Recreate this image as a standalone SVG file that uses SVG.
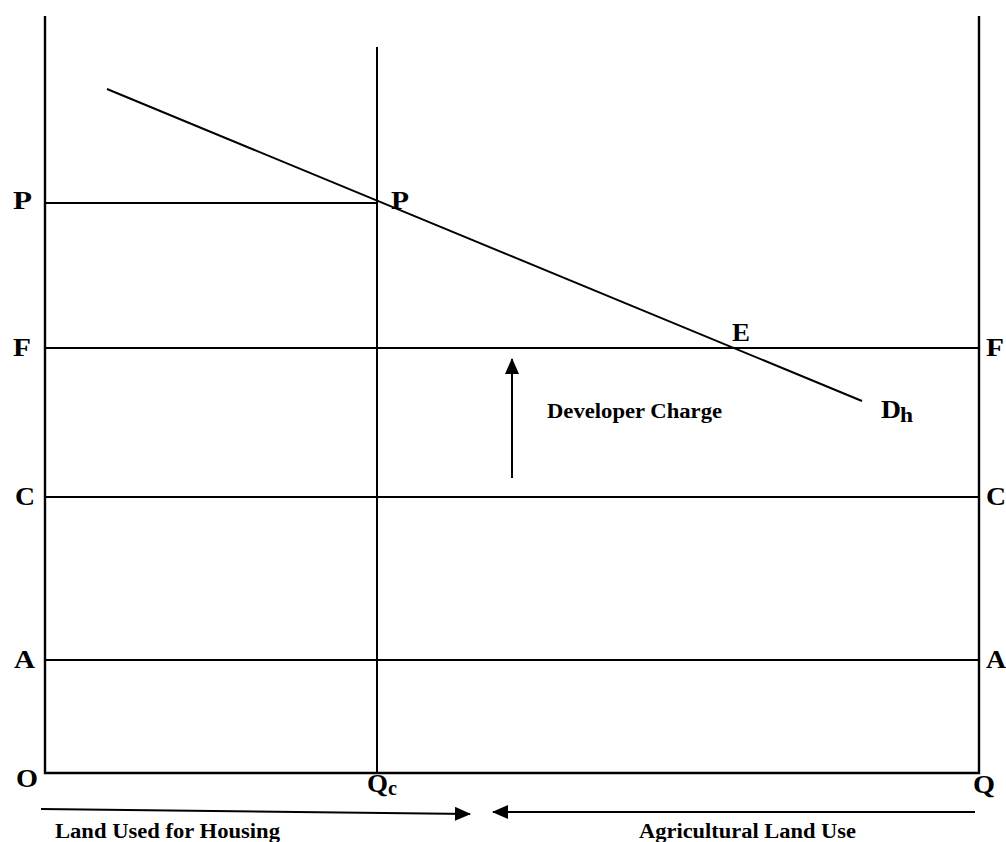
<svg xmlns="http://www.w3.org/2000/svg" width="1006" height="842" viewBox="0 0 1006 842">
<defs>
<style>
.ln{stroke:#000;stroke-width:2;fill:none}
.ax{stroke:#000;stroke-width:2.4;fill:none}
.lb{font-family:"Liberation Serif","Times New Roman",serif;font-weight:bold;font-size:25px;fill:#000}
.sm{font-family:"Liberation Serif","Times New Roman",serif;font-weight:bold;font-size:20px;fill:#000}
</style>
<marker id="ah" markerUnits="userSpaceOnUse" markerWidth="16" markerHeight="14" refX="15" refY="7" orient="auto">
<path d="M0,0 L16,7 L0,14 Z" fill="#000"/>
</marker>
</defs>
<rect width="1006" height="842" fill="#fff"/>
<g id="axes">
<path class="ax" d="M45,16 V773 H979 V16"/>
<line class="ln" x1="377" y1="47" x2="377" y2="773"/>
</g>
<g id="levels">
<line class="ln" x1="45" y1="203" x2="377" y2="203"/>
<line class="ln" x1="45" y1="348" x2="979" y2="348"/>
<line class="ln" x1="45" y1="497" x2="979" y2="497"/>
<line class="ln" x1="45" y1="660" x2="979" y2="660"/>
</g>
<g id="demand">
<line class="ln" x1="107" y1="89" x2="862" y2="401"/>
</g>
<g id="connectors">
<line class="ln" x1="512" y1="478" x2="512" y2="359" marker-end="url(#ah)"/>
<line class="ln" x1="41" y1="809" x2="470" y2="814" marker-end="url(#ah)"/>
<line class="ln" x1="975" y1="812" x2="493" y2="812" marker-end="url(#ah)"/>
</g>
<g id="labels">
<text class="lb" x="13" y="209" textLength="19" lengthAdjust="spacingAndGlyphs">P</text>
<text class="lb" x="391" y="209" textLength="18" lengthAdjust="spacingAndGlyphs">P</text>
<text class="lb" x="13" y="356" textLength="18" lengthAdjust="spacingAndGlyphs">F</text>
<text class="lb" x="732" y="341" textLength="18" lengthAdjust="spacingAndGlyphs">E</text>
<text class="lb" x="986" y="356" textLength="18" lengthAdjust="spacingAndGlyphs">F</text>
<text class="lb" x="15" y="505" textLength="20" lengthAdjust="spacingAndGlyphs">C</text>
<text class="lb" x="986" y="505" textLength="20" lengthAdjust="spacingAndGlyphs">C</text>
<text class="lb" x="14" y="668" textLength="21" lengthAdjust="spacingAndGlyphs">A</text>
<text class="lb" x="986" y="668" textLength="20" lengthAdjust="spacingAndGlyphs">A</text>
<text class="lb" x="16" y="787" textLength="22" lengthAdjust="spacingAndGlyphs">O</text>
<text class="lb" x="367" y="792" textLength="21" lengthAdjust="spacingAndGlyphs">Q</text>
<text class="sm" x="388" y="795" font-size="17" textLength="9" lengthAdjust="spacingAndGlyphs">c</text>
<text class="lb" x="973" y="793" textLength="22" lengthAdjust="spacingAndGlyphs">Q</text>
<text class="lb" x="881" y="418" font-size="28" textLength="20" lengthAdjust="spacingAndGlyphs">D</text>
<text class="sm" x="900" y="422" font-size="19" textLength="13" lengthAdjust="spacingAndGlyphs">h</text>
<text class="sm" x="547" y="418" textLength="175" lengthAdjust="spacingAndGlyphs">Developer Charge</text>
<text class="sm" x="55" y="838" textLength="225" lengthAdjust="spacingAndGlyphs">Land Used for Housing</text>
<text class="sm" x="639" y="838" textLength="217" lengthAdjust="spacingAndGlyphs">Agricultural Land Use</text>
</g>
</svg>
